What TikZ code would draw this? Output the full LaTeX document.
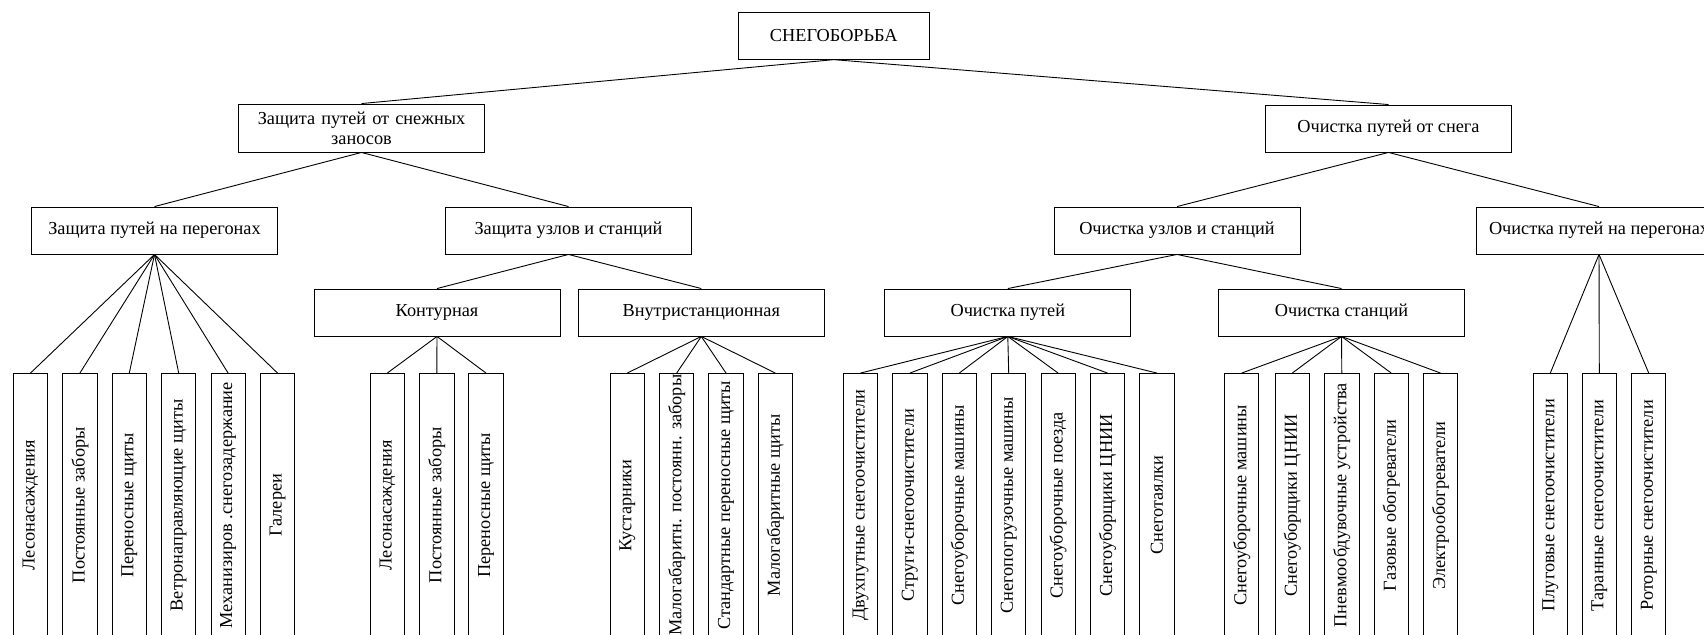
\documentclass[tikz,border=0pt]{standalone}
\usepackage{fontspec}
\setmainfont{Liberation Serif}
\begin{document}
\begin{tikzpicture}[x=1pt,y=-1pt,line width=0.9pt,
  box/.style={draw,inner sep=0pt,minimum width=246pt,minimum height=47pt,
    font=\fontsize{18.3}{20}\selectfont,align=center},
  leaf/.style={draw,rotate=90,inner sep=0pt,minimum width=263.5pt,minimum height=34.3pt,
    font=\fontsize{18.3}{20}\selectfont},
  link/.style={draw,line width=0.9pt}]
\useasboundingbox (0,0) rectangle (1704,634);
\clip (0,0) rectangle (1704,634);
% levels
\node[box,minimum width=191pt] (root) at (833.8,35.7) {СНЕГОБОРЬБА};
\node[box,minimum height=48pt,text width=240pt] (prot) at (361.5,128) {Защита путей от снежных\\заносов};
\node[box] (clean) at (1388.5,128.5) {Очистка путей от снега};
\node[box] (pprot) at (154.5,230.5) {Защита путей на перегонах};
\node[box] (sprot) at (568.5,230.5) {Защита узлов и станций};
\node[box] (sclean) at (1177,230.5) {Очистка узлов и станций};
\node[box] (pclean) at (1599,230.5) {Очистка путей на перегонах};
\node[box] (kont) at (437,312.5) {Контурная};
\node[box] (vnut) at (701.3,312.5) {Внутристанционная};
\node[box] (ochp) at (1007.8,312.5) {Очистка путей};
\node[box] (ochs) at (1341.5,312.5) {Очистка станций};
% leaves group 1
\node[leaf] (a1) at (30.5,505.25) {Лесонасаждения};
\node[leaf] (a2) at (79.9,505.25) {Постоянные заборы};
\node[leaf] (a3) at (129.3,505.25) {Переносные щиты};
\node[leaf] (a4) at (178.7,505.25) {Ветронаправляющие щиты};
\node[leaf] (a5) at (228.1,505.25) {Механизиров .снегозадержание};
\node[leaf] (a6) at (277.5,505.25) {Галереи};
% group 2
\node[leaf] (b1) at (387.3,505.25) {Лесонасаждения};
\node[leaf] (b2) at (436.8,505.25) {Постоянные заборы};
\node[leaf] (b3) at (486,505.25) {Переносные щиты};
% group 3
\node[leaf] (c1) at (627.3,505.25) {Кустарники};
\node[leaf] (c2) at (676.7,505.25) {Малогабаритн. постоянн. заборы};
\node[leaf] (c3) at (726,505.25) {Стандартные переносные щиты};
\node[leaf] (c4) at (775.3,505.25) {Малогабаритные щиты};
% group 4
\node[leaf] (d1) at (860.5,505.25) {Двухпутные снегоочистители};
\node[leaf] (d2) at (909.9,505.25) {Струги-снегоочистители};
\node[leaf] (d3) at (959.3,505.25) {Снегоуборочные машины};
\node[leaf] (d4) at (1008.7,505.25) {Снегопогрузочные машины};
\node[leaf] (d5) at (1058.1,505.25) {Снегоуборочные поезда};
\node[leaf] (d6) at (1107.5,505.25) {Снегоуборщики ЦНИИ};
\node[leaf] (d7) at (1156.9,505.25) {Снеготаялки};
% group 5
\node[leaf] (e1) at (1241.7,505.25) {Снегоуборочные машины};
\node[leaf] (e2) at (1292.3,505.25) {Снегоуборщики ЦНИИ};
\node[leaf] (e3) at (1341.8,505.25) {Пневмообдувочные устройства};
\node[leaf] (e4) at (1391.2,505.25) {Газовые обогреватели};
\node[leaf] (e5) at (1440.5,505.25) {Электрообогреватели};
% group 6
\node[leaf] (f1) at (1550.3,505.25) {Плуговые снегоочистители};
\node[leaf] (f2) at (1599.3,505.25) {Таранные снегоочистители};
\node[leaf] (f3) at (1648.7,505.25) {Роторные снегоочистители};
% connectors
\draw[link] (root.south) -- (prot.north);
\draw[link] (root.south) -- (clean.north);
\draw[link] (prot.south) -- (pprot.north);
\draw[link] (prot.south) -- (sprot.north);
\draw[link] (clean.south) -- (sclean.north);
\draw[link] (clean.south) -- (pclean.north);
\draw[link] (sprot.south) -- (kont.north);
\draw[link] (sprot.south) -- (vnut.north);
\draw[link] (sclean.south) -- (ochp.north);
\draw[link] (sclean.south) -- (ochs.north);
\foreach \n in {a1,a2,a3,a4,a5,a6} \draw[link] (pprot.south) -- (\n.east);
\foreach \n in {b1,b2,b3} \draw[link] (kont.south) -- (\n.east);
\foreach \n in {c1,c2,c3,c4} \draw[link] (vnut.south) -- (\n.east);
\foreach \n in {d1,d2,d3,d4,d5,d6,d7} \draw[link] (ochp.south) -- (\n.east);
\foreach \n in {e1,e2,e3,e4,e5} \draw[link] (ochs.south) -- (\n.east);
\foreach \n in {f1,f2,f3} \draw[link] (pclean.south) -- (\n.east);
\end{tikzpicture}
\end{document}
